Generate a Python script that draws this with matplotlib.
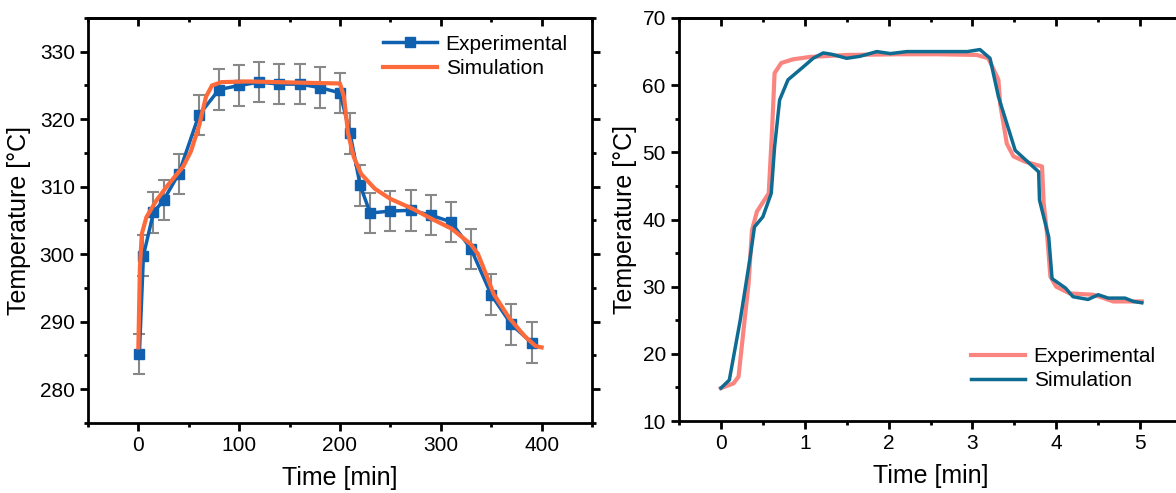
import numpy as np
import matplotlib
matplotlib.use("Agg")
import matplotlib.pyplot as plt
from matplotlib.ticker import MultipleLocator

plt.rcParams['font.family'] = ['Liberation Sans', 'DejaVu Sans']

# left panel: experimental points (+/- error) and simulation curve
exp_t = [1, 5, 15, 25, 40, 60, 80, 100, 120, 140, 160, 180, 200, 210, 220, 230,
         250, 270, 290, 310, 330, 350, 370, 390]
exp_T = [285.2, 299.8, 306.2, 308.0, 311.9, 320.6, 324.4, 325.0, 325.5, 325.2,
         325.2, 324.7, 323.9, 317.9, 310.2, 306.1, 306.4, 306.5, 305.8, 304.8,
         300.8, 294.0, 289.6, 286.9]
exp_err = [3] * len(exp_t)

sim_t = [0, 1.5, 3.4, 8, 18, 29, 44.5, 52, 60, 67, 73, 82.5, 109, 166, 200, 204,
         208, 213.7, 221, 234.6, 250, 272.6, 291.6, 310.6, 329.7, 337, 345, 352.5,
         367.7, 383, 394, 400]
sim_T = [286.2, 298.0, 303.0, 305.5, 308.0, 310.2, 313.0, 315.2, 318.9, 323.3,
         325.0, 325.5, 325.6, 325.4, 325.3, 323.3, 317.9, 314.4, 311.9, 309.7,
         308.2, 306.7, 305.2, 303.8, 301.5, 300.0, 297.0, 294.1, 290.6, 287.9,
         286.4, 286.2]

# right panel: experimental and simulated traces
r_exp_t = [0.0, 0.15, 0.21, 0.27, 0.33, 0.37, 0.43, 0.57, 0.61, 0.64, 0.72, 0.86,
           1.06, 1.5, 2.14, 2.6, 3.05, 3.19, 3.31, 3.33, 3.41, 3.49, 3.63, 3.83,
           3.85, 3.89, 3.93, 4.0, 4.16, 4.44, 4.52, 4.68, 4.88, 5.02]
r_exp_T = [14.9, 15.6, 16.6, 23.6, 30.5, 38.4, 41.2, 43.9, 53.3, 61.8, 63.3, 63.85,
           64.2, 64.5, 64.6, 64.6, 64.5, 64.0, 60.8, 57.3, 51.3, 49.4, 48.6, 47.9,
           42.4, 37.9, 31.5, 30.0, 29.0, 28.8, 28.5, 27.8, 27.8, 27.8]

r_sim_t = [0.0, 0.1, 0.23, 0.35, 0.4, 0.5, 0.6, 0.64, 0.7, 0.8, 0.98, 1.1, 1.22,
           1.32, 1.5, 1.66, 1.86, 2.02, 2.22, 2.6, 2.94, 3.09, 3.21, 3.31, 3.51,
           3.79, 3.8, 3.91, 3.95, 4.11, 4.2, 4.38, 4.5, 4.62, 4.82, 4.92, 5.02]
r_sim_T = [14.9, 16.1, 25.0, 34.5, 38.9, 40.4, 43.9, 50.8, 57.8, 60.8, 62.7, 64.0,
           64.8, 64.6, 64.0, 64.3, 65.0, 64.7, 65.0, 65.0, 65.0, 65.3, 64.0, 58.3,
           50.3, 47.1, 42.9, 37.4, 31.2, 29.8, 28.5, 28.1, 28.8, 28.3, 28.3, 27.8,
           27.6]

fig = plt.figure(figsize=(11.76, 4.93), dpi=100)
ax1 = fig.add_axes([0.0748, 0.142, 0.4286, 0.8215])
ax2 = fig.add_axes([0.5774, 0.146, 0.4277, 0.8175])

blue = '#1060b0'
orange = '#ff6a3a'

ax1.errorbar(exp_t, exp_T, yerr=exp_err, fmt='none', ecolor='#888888',
             elinewidth=1.5, capsize=4, capthick=1.5, zorder=1)
ax1.plot(exp_t, exp_T, color=blue, lw=2.5, marker='s', ms=7,
         label='Experimental', zorder=2)
ax1.plot(sim_t, sim_T, color=orange, lw=3, label='Simulation', zorder=3)
ax1.set_xlim(-50, 450)
ax1.set_ylim(275, 335)
ax1.xaxis.set_major_locator(MultipleLocator(100))
ax1.xaxis.set_minor_locator(MultipleLocator(50))
ax1.yaxis.set_major_locator(MultipleLocator(10))
ax1.yaxis.set_minor_locator(MultipleLocator(5))
ax1.set_xticks([0, 100, 200, 300, 400])
ax1.set_xlabel('Time [min]', fontsize=18, labelpad=8)
ax1.set_ylabel('Temperature [°C]', fontsize=18, labelpad=6)
ax1.legend(loc='upper right', frameon=False, fontsize=15,
           handlelength=2.6, handletextpad=0.4, borderaxespad=0.4,
           labelspacing=0.25, bbox_to_anchor=(0.985, 1.0))

ax2.plot(r_exp_t, r_exp_T, color='#fa8580', lw=3, label='Experimental')
ax2.plot(r_sim_t, r_sim_T, color='#0e6c93', lw=2.5, label='Simulation')
ax2.set_xlim(-0.5, 5.5)
ax2.set_ylim(10, 70)
ax2.xaxis.set_major_locator(MultipleLocator(1))
ax2.xaxis.set_minor_locator(MultipleLocator(0.5))
ax2.yaxis.set_major_locator(MultipleLocator(10))
ax2.yaxis.set_minor_locator(MultipleLocator(5))
ax2.set_xticks([0, 1, 2, 3, 4, 5])
ax2.set_xlabel('Time [min]', fontsize=18, labelpad=8)
ax2.set_ylabel('Temperature [°C]', fontsize=18, labelpad=4)
ax2.legend(loc='lower right', frameon=False, fontsize=15, handlelength=2.6,
           handletextpad=0.4, bbox_to_anchor=(0.985, 0.03), labelspacing=0.25)

for ax in (ax1, ax2):
    for s in ax.spines.values():
        s.set_linewidth(2)
    ax.tick_params(which='both', direction='out', width=2, labelsize=15,
                   top=False, right=True, labelright=False)
    ax.tick_params(which='major', length=6)
    ax.tick_params(which='minor', length=3)
    # top ticks point inward
    sec = ax.secondary_xaxis('top')
    sec.xaxis.set_major_locator(ax.xaxis.get_major_locator())
    sec.xaxis.set_minor_locator(ax.xaxis.get_minor_locator())
    sec.tick_params(which='both', direction='in', width=2, labeltop=False)
    sec.tick_params(which='major', length=6)
    sec.tick_params(which='minor', length=3)
    sec.spines['top'].set_linewidth(2)

fig.savefig('out.png', dpi=100)
